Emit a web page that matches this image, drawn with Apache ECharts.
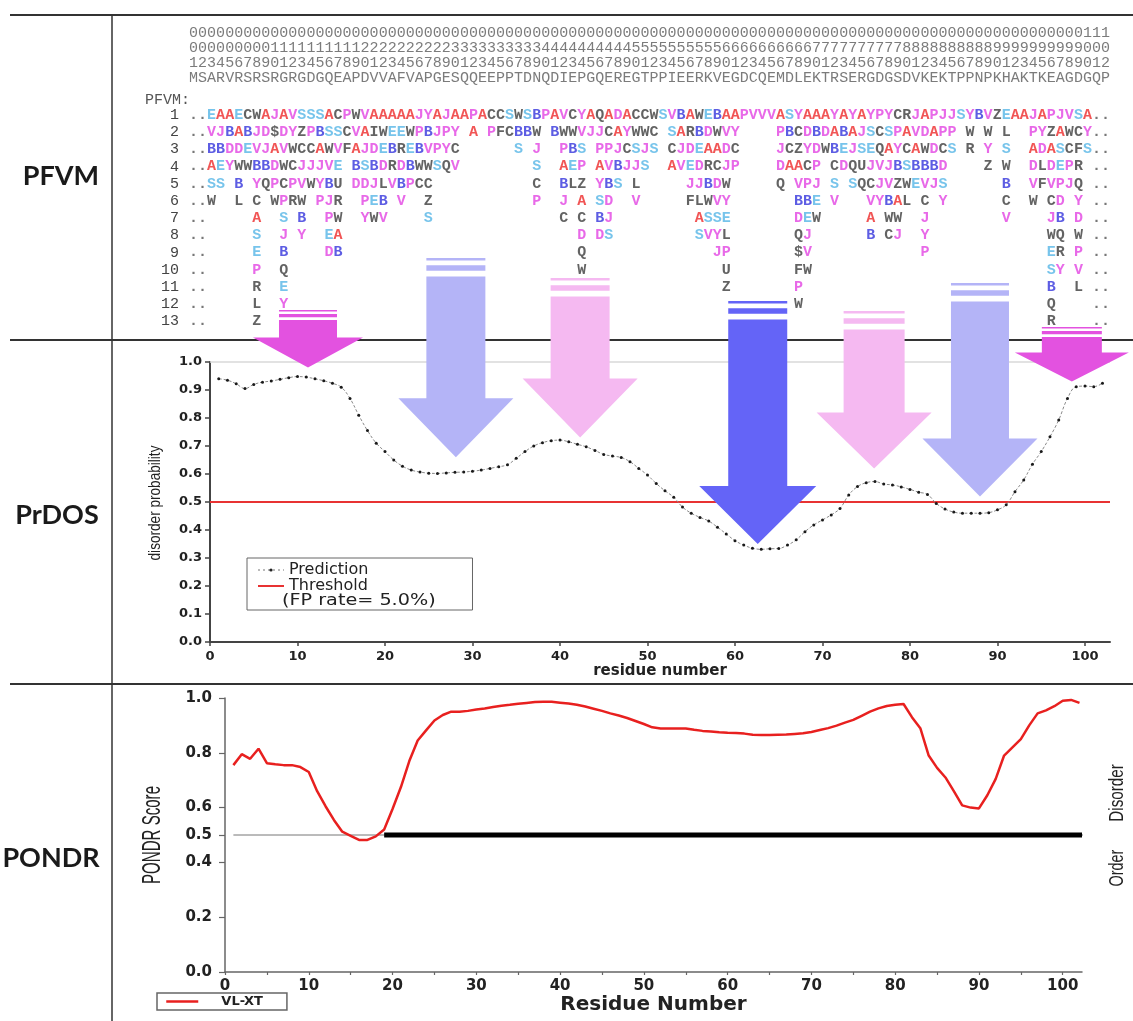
<!DOCTYPE html>
<html><head><meta charset="utf-8">
<script src="https://cdn.jsdelivr.net/npm/echarts@6/dist/echarts.min.js"></script>
<style>html,body{margin:0;padding:0;background:#fff}#main{width:1133px;height:1021px}</style>
</head><body><div id="main"></div>
<script>
// ================= DATA =================
const sequence = 'MSARVRSRSRGRGDGQEAPDVVAFVAPGESQQEEPPTDNQDIEPGQEREGTPPIEERKVEGDCQEMDLEKTRSERGDGSDVKEKTPPNPKHAKTKEAGDGQP';

// PFVM rows: [start column, text]
const pfvmRow1 = [[1,'..EAAECWAJAVSSSACPWVAAAAAJYAJAAPACCSWSBPAVCYAQADACCWSVBAWEBAAPVVVASYAAAYAYAYPYCRJAPJJSYBVZEAAJAPJVSA..']];
const pfvmRow2 = [[1,'..VJBABJD$DYZPBSSCVAIWEEWPBJPY'],[32,'A'],[34,'PFCBBW'],[41,'BWWVJJCAYWWC'],[54,'SARBDWVY'],[66,'PBCDBDABAJSCSPAVDAPP'],[87,'W'],[89,'W'],[91,'L'],[94,'PYZAWCY..']];
const pfvmRow3 = [[1,'..BBDDEVJAVWCCAWVFAJDEBREBVPYC'],[37,'S'],[39,'J'],[42,'PBS'],[46,'PPJCSJS'],[54,'CJDEAADC'],[66,'JCZYDWBEJSEQAYCAWDCS'],[87,'R'],[89,'Y'],[91,'S'],[94,'ADASCFS..']];
const pfvmRow4 = [[1,'..AEYWWBBDWCJJJVE'],[19,'BSBDRDBWWSQV'],[39,'S'],[42,'AEP'],[46,'AVBJJS'],[54,'AVEDRCJP'],[66,'DAACP'],[72,'CDQUJVJBSBBBD'],[89,'Z'],[91,'W'],[94,'DLDEPR'],[101,'..']];
const pfvmRow5 = [[1,'..SS'],[6,'B'],[8,'YQPCPVWYBU'],[19,'DDJLVBPCC'],[39,'C'],[42,'BLZ'],[46,'YBS'],[50,'L'],[56,'JJBDW'],[66,'Q'],[68,'VPJ'],[72,'S'],[74,'SQCJVZWEVJS'],[91,'B'],[94,'VFVPJQ'],[101,'..']];
const pfvmRow6 = [[1,'..W'],[6,'L'],[8,'C'],[10,'WPRW'],[15,'PJR'],[20,'PEB'],[24,'V'],[27,'Z'],[39,'P'],[42,'J'],[44,'A'],[46,'SD'],[50,'V'],[56,'FLWVY'],[68,'BBE'],[72,'V'],[76,'VYBAL'],[82,'C'],[84,'Y'],[91,'C'],[94,'W'],[96,'CD'],[99,'Y'],[101,'..']];
const pfvmRow7 = [[1,'..'],[8,'A'],[11,'S'],[13,'B'],[16,'PW'],[20,'YWV'],[27,'S'],[42,'C'],[44,'C'],[46,'BJ'],[57,'ASSE'],[68,'DEW'],[76,'A'],[78,'WW'],[82,'J'],[91,'V'],[96,'JB'],[99,'D'],[101,'..']];
const pfvmRow8 = [[1,'..'],[8,'S'],[11,'J'],[13,'Y'],[16,'EA'],[44,'D'],[46,'DS'],[57,'SVYL'],[68,'QJ'],[76,'B'],[78,'CJ'],[82,'Y'],[96,'WQ'],[99,'W'],[101,'..']];
const pfvmRow9 = [[1,'..'],[8,'E'],[11,'B'],[16,'DB'],[44,'Q'],[59,'JP'],[68,'$V'],[82,'P'],[96,'ER'],[99,'P'],[101,'..']];
const pfvmRow10 = [[1,'..'],[8,'P'],[11,'Q'],[44,'W'],[60,'U'],[68,'FW'],[96,'SY'],[99,'V'],[101,'..']];
const pfvmRow11 = [[1,'..'],[8,'R'],[11,'E'],[60,'Z'],[68,'P'],[96,'B'],[99,'L'],[101,'..']];
const pfvmRow12 = [[1,'..'],[8,'L'],[11,'Y'],[68,'W'],[96,'Q'],[101,'..']];
const pfvmRow13 = [[1,'..'],[8,'Z'],[96,'R'],[101,'..']];
const pfvmRows = [pfvmRow1,pfvmRow2,pfvmRow3,pfvmRow4,pfvmRow5,pfvmRow6,pfvmRow7,pfvmRow8,pfvmRow9,pfvmRow10,pfvmRow11,pfvmRow12,pfvmRow13];

// PrDOS disorder probability, residues 1..102
const prdosValues = [
 0.94,0.935,0.922,0.905,0.92,0.928,0.932,0.938,0.944,0.948,
 0.946,0.94,0.933,0.924,0.91,0.87,0.81,0.755,0.71,0.68,
 0.65,0.628,0.614,0.607,0.603,0.602,0.604,0.606,0.607,0.61,
 0.614,0.62,0.626,0.633,0.656,0.68,0.70,0.712,0.719,0.721,
 0.715,0.706,0.697,0.684,0.670,0.664,0.659,0.644,0.62,0.596,
 0.566,0.54,0.517,0.482,0.46,0.445,0.432,0.41,0.386,0.362,
 0.346,0.335,0.331,0.333,0.334,0.346,0.365,0.394,0.418,0.436,
 0.454,0.477,0.525,0.555,0.569,0.573,0.564,0.561,0.554,0.545,
 0.535,0.527,0.495,0.475,0.464,0.46,0.46,0.46,0.462,0.472,
 0.49,0.537,0.579,0.635,0.68,0.733,0.793,0.87,0.912,0.914,
 0.912,0.924];
const prdosThreshold = 0.5;

// PONDR VL-XT score, residues 1..102
const pondrValues = [
 0.755,0.795,0.778,0.815,0.762,0.758,0.755,0.755,0.748,0.73,
 0.66,0.605,0.555,0.512,0.497,0.482,0.482,0.495,0.52,0.595,
 0.675,0.77,0.845,0.882,0.918,0.938,0.95,0.95,0.953,0.958,
 0.962,0.967,0.972,0.975,0.979,0.982,0.985,0.986,0.986,0.983,
 0.98,0.975,0.969,0.961,0.953,0.944,0.936,0.927,0.916,0.905,
 0.893,0.889,0.889,0.889,0.889,0.884,0.88,0.878,0.875,0.873,
 0.872,0.87,0.866,0.865,0.865,0.866,0.867,0.869,0.871,0.876,
 0.883,0.89,0.899,0.91,0.92,0.935,0.95,0.962,0.971,0.975,
 0.978,0.93,0.89,0.79,0.745,0.71,0.66,0.608,0.60,0.597,
 0.645,0.705,0.79,0.82,0.85,0.9,0.944,0.955,0.97,0.99,
 0.993,0.982];
const pondrThreshold = 0.5;
const pondrDisorderStart = 19;
const pondrDisorderEnd = 102.3;

// tick labels
const xTickValues = [0,10,20,30,40,50,60,70,80,90,100];
const pondrXMinorTicks = [0,5,10,15,20,25,30,35,40,45,50,55,60,65,70,75,80,85,90,95,100];
const pondrYTickValues = [0,0.2,0.4,0.5,0.6,0.8,1.0];

// arrows: residue of arrow centre and PrDOS probability at the tip
const arrowResidue = [11.2, 28.1, 42.3, 62.6, 75.9, 88.0, 98.5];
const arrowTipValue = [0.98, 0.66, 0.73, 0.35, 0.62, 0.52, 0.93];

// ================= STYLE / LAYOUT =================
const arrowStyles = [
 {color:'#e352e0', top:310, headH:30, headHW:55, shaftHW:29, s:0.55},
 {color:'#b4b4f7', top:258, headH:59, headHW:57.5, shaftHW:29.5, s:1},
 {color:'#f5b9f1', top:278, headH:59, headHW:57.5, shaftHW:29.5, s:1},
 {color:'#6464f7', top:301, headH:58, headHW:58.5, shaftHW:29.5, s:1},
 {color:'#f5b9f1', top:311, headH:56, headHW:57.5, shaftHW:30.5, s:1},
 {color:'#b4b4f7', top:283, headH:58, headHW:57.5, shaftHW:29, s:1},
 {color:'#e352e0', top:327, headH:29, headHW:57, shaftHW:30, s:0.55}
];
const headerRowY = [-3.77, -2.9, -2.02, -1.15];
const letterColors = {A:'#ee2b2b',E:'#55b5e6',S:'#55b5e6',B:'#3434dc',J:'#e244e2',P:'#e244e2',V:'#e244e2',Y:'#e244e2',D:'#e244e2'};
function colorOf(ch){ if (ch === '.') return '#555'; return letterColors[ch] || '#3c3c3c'; }

const residues = sequence.split('').map((_, i) => i + 1);

// header points (position digits + sequence)
const headerLines = [
 residues.map(r => String(Math.floor(r / 100))).join(''),
 residues.map(r => String(Math.floor(r / 10) % 10)).join(''),
 residues.map(r => String(r % 10)).join(''),
 sequence
];
const headerPoints = [];
headerLines.forEach((line, li) => {
  for (let k = 0; k < line.length; k++) headerPoints.push({value:[k + 1, headerRowY[li]], name: line[k]});
});
const pfvmPoints = [];
pfvmRows.forEach((segs, ri) => segs.forEach(([c0, txt]) => {
  for (let k = 0; k < txt.length; k++) {
    const ch = txt[k];
    if (ch === ' ') continue;
    pfvmPoints.push({value:[c0 + k, ri + 1], name: ch, label:{color: colorOf(ch)}});
  }
}));

const numFont = 'DejaVu Sans';
const chart = echarts.init(document.getElementById('main'));

const option = {
  animation: false,
  backgroundColor: '#fff',
  grid: [
    {left:189, width:921, top:11.8, height:326.8},
    {left:210, width:900, top:362, height:280},
    {left:225, width:857, top:698, height:274}
  ],
  xAxis: [
    {gridIndex:0, type:'value', min:0.5, max:102.5, show:false},
    {gridIndex:1, type:'value', min:0, max:102.86, interval:10,
     axisLine:{show:true, lineStyle:{color:'#444', width:2}},
     axisTick:{show:true, customValues:xTickValues, length:4, lineStyle:{color:'#444', width:1.5}},
     axisLabel:{customValues:xTickValues, fontFamily:numFont, fontWeight:'bold', fontSize:13, color:'#222', margin:8},
     splitLine:{show:false},
     name:'residue number', nameLocation:'middle', nameGap:22,
     nameTextStyle:{fontFamily:numFont, fontWeight:'bold', fontSize:15, color:'#222'}},
    {gridIndex:2, type:'value', min:0, max:102.3, interval:10,
     axisLine:{show:true, lineStyle:{color:'#666', width:1.5}},
     axisTick:{show:true, customValues:pondrXMinorTicks, length:3, lineStyle:{color:'#666', width:1.2}},
     axisLabel:{customValues:xTickValues, fontFamily:numFont, fontWeight:'bold', fontSize:15, color:'#222', margin:7},
     splitLine:{show:false},
     name:'Residue Number', nameLocation:'middle', nameGap:22,
     nameTextStyle:{fontFamily:numFont, fontWeight:'bold', fontSize:20, color:'#222'}}
  ],
  yAxis: [
    {gridIndex:0, type:'value', min:-5, max:14, interval:1, inverse:true,
     axisLine:{show:false}, axisTick:{show:false}, splitLine:{show:false},
     axisLabel:{show:true, margin:10, color:'#444', fontFamily:'Liberation Mono', fontSize:15,
       formatter: v => (v >= 1 && v <= 13 && Number.isInteger(v)) ? String(v) : ''}},
    {gridIndex:1, type:'value', min:0, max:1, interval:0.1,
     axisLine:{show:true, lineStyle:{color:'#444', width:2}},
     axisTick:{show:true, length:5, lineStyle:{color:'#444', width:1.5}},
     axisLabel:{fontFamily:numFont, fontWeight:'bold', fontSize:13, color:'#222', margin:8, formatter: v => v.toFixed(1)},
     splitLine:{show:false}},
    {gridIndex:2, type:'value', min:0, max:1,
     axisLine:{show:true, lineStyle:{color:'#666', width:1.5}},
     axisTick:{show:true, customValues:pondrYTickValues, length:6, lineStyle:{color:'#666', width:1.2}},
     axisLabel:{customValues:pondrYTickValues, fontFamily:numFont, fontWeight:'bold', fontSize:15, color:'#222', margin:13, formatter: v => v.toFixed(1)},
     splitLine:{show:false}}
  ],
  legend: [
    {data:[
       {name:'Prediction', itemStyle:{color:'#222'}, lineStyle:{color:'#777', type:[2,3], width:1.2}},
       {name:'Threshold', itemStyle:{opacity:0}, lineStyle:{color:'#e83232', width:2}}
     ],
     orient:'vertical', left:247, top:558, selectedMode:false,
     itemWidth:26, itemHeight:4, itemGap:0, padding:[4,104,16,10],
     borderColor:'#666', borderWidth:1, backgroundColor:'#fff',
     textStyle:{fontFamily:numFont, fontSize:16, color:'#222', lineHeight:15}},
    {data:[{name:'VL-XT', itemStyle:{opacity:0}, lineStyle:{color:'#e8201f', width:2.5}}],
     left:157, top:993, selectedMode:false,
     itemWidth:32, itemHeight:10, padding:[2,24,2,8],
     borderColor:'#666', borderWidth:1.5,
     formatter: n => '    ' + n,
     textStyle:{fontFamily:numFont, fontWeight:'bold', fontSize:13, color:'#222'}}
  ],
  series: [
    {type:'scatter', xAxisIndex:0, yAxisIndex:0, symbolSize:1, silent:true,
     itemStyle:{color:'rgba(0,0,0,0)'}, data: headerPoints,
     label:{show:true, position:'inside', formatter: p => p.name, color:'#5a5a5a',
            fontFamily:'Liberation Mono', fontSize:15}},
    {type:'scatter', xAxisIndex:0, yAxisIndex:0, symbolSize:1, silent:true,
     itemStyle:{color:'rgba(0,0,0,0)'}, data: pfvmPoints,
     label:{show:true, position:'inside', formatter: p => p.name,
            fontFamily:'Liberation Mono', fontSize:15, fontWeight:'bold'}},
    {name:'Threshold', type:'line', xAxisIndex:1, yAxisIndex:1, symbol:'none', silent:true,
     data:[[0, prdosThreshold],[102.86, prdosThreshold]],
     lineStyle:{color:'#e83232', width:2}, itemStyle:{color:'#e83232'}, z:2,
     markLine:{silent:true, symbol:'none', label:{show:false},
       lineStyle:{color:'#d8d8d8', type:'solid', width:1.5}, data:[{yAxis:1}]}},
    {name:'Prediction', type:'line', xAxisIndex:1, yAxisIndex:1, smooth:0.4,
     symbol:'circle', symbolSize:3, showSymbol:true, silent:true,
     data: prdosValues.map((v, i) => [residues[i], v]),
     itemStyle:{color:'#1a1a1a'}, lineStyle:{color:'#8a8a8a', width:1, type:[3,2]}, z:3},
    {type:'line', xAxisIndex:2, yAxisIndex:2, symbol:'none', silent:true, clip:false,
     data:[[1, pondrThreshold],[107, pondrThreshold]], lineStyle:{color:'#777', width:1}, z:1},
    {type:'line', xAxisIndex:2, yAxisIndex:2, symbol:'none', silent:true,
     data:[[pondrDisorderStart, pondrThreshold],[pondrDisorderEnd, pondrThreshold]],
     lineStyle:{color:'#000', width:5}, z:2},
    {name:'VL-XT', type:'line', xAxisIndex:2, yAxisIndex:2, symbol:'none', silent:true,
     data: pondrValues.map((v, i) => [residues[i], v]),
     lineStyle:{color:'#e8201f', width:2.5}, itemStyle:{color:'#e8201f'}, z:3}
  ]
};
chart.setOption(option);

// ================= GRAPHICS =================
const g = [];
const border = {stroke:'#333', lineWidth:2};
g.push({type:'line', shape:{x1:10, y1:15, x2:1133, y2:15}, style:border, z:50});
g.push({type:'line', shape:{x1:112, y1:15, x2:112, y2:1021}, style:{stroke:'#333', lineWidth:1.5}, z:50});
g.push({type:'line', shape:{x1:10, y1:340, x2:1133, y2:340}, style:border, z:50});
g.push({type:'line', shape:{x1:10, y1:684, x2:1133, y2:684}, style:border, z:50});

const panelFont = {fontFamily:'Lato', fontWeight:'bold', fontSize:27, fill:'#1a1a1a', align:'center', verticalAlign:'middle'};
g.push({type:'text', x:61, y:176, style:Object.assign({text:'PFVM'}, panelFont), z:50});
g.push({type:'text', x:57, y:515, style:Object.assign({text:'PrDOS'}, panelFont), z:50});
g.push({type:'text', x:51, y:858, style:Object.assign({text:'PONDR'}, panelFont), z:50});

g.push({type:'text', x:145, y:100, style:{text:'PFVM:', fontFamily:'Liberation Mono', fontSize:15, fill:'#555', verticalAlign:'middle'}, z:50});

g.push({type:'text', x:155, y:503, rotation:Math.PI/2, scaleX:0.8,
  style:{text:'disorder probability', fontFamily:'Liberation Sans', fontSize:17, fill:'#222', align:'center', verticalAlign:'middle'}, z:50});
g.push({type:'text', x:153, y:835, rotation:Math.PI/2, scaleX:0.58,
  style:{text:'PONDR Score', fontFamily:'Liberation Sans', fontSize:26, fill:'#222', align:'center', verticalAlign:'middle'}, z:50});
g.push({type:'text', x:1117, y:793, rotation:Math.PI/2, scaleX:0.76,
  style:{text:'Disorder', fontFamily:'Liberation Sans', fontSize:20, fill:'#222', align:'center', verticalAlign:'middle'}, z:50});
g.push({type:'text', x:1117, y:868, rotation:Math.PI/2, scaleX:0.72,
  style:{text:'Order', fontFamily:'Liberation Sans', fontSize:20, fill:'#222', align:'center', verticalAlign:'middle'}, z:50});

g.push({type:'text', x:282, y:601, scaleX:1.2,
  style:{text:'(FP rate= 5.0%)', fontFamily:numFont, fontSize:16, fill:'#222', verticalAlign:'middle'}, z:60});

// arrows positioned via the PrDOS axes
arrowResidue.forEach((res, i) => {
  const st = arrowStyles[i];
  const p = chart.convertToPixel({xAxisIndex:1, yAxisIndex:1}, [res, arrowTipValue[i]]);
  const cx = p[0], tip = p[1];
  const headTop = tip - st.headH;
  const t0 = st.top, s = st.s;
  g.push({type:'rect', shape:{x:cx - st.shaftHW, y:t0, width:2*st.shaftHW, height:2.2*s + 0.4}, style:{fill:st.color}, z:100});
  g.push({type:'rect', shape:{x:cx - st.shaftHW, y:t0 + 7.2*s, width:2*st.shaftHW, height:5.2*s + 0.4}, style:{fill:st.color}, z:100});
  const solidTop = t0 + 18.4*s;
  g.push({type:'polygon', shape:{points:[
    [cx - st.shaftHW, solidTop],[cx + st.shaftHW, solidTop],[cx + st.shaftHW, headTop],
    [cx + st.headHW, headTop],[cx, tip],[cx - st.headHW, headTop],[cx - st.shaftHW, headTop]
  ]}, style:{fill:st.color}, z:100});
});

chart.setOption({graphic: g});
</script>
</body></html>
